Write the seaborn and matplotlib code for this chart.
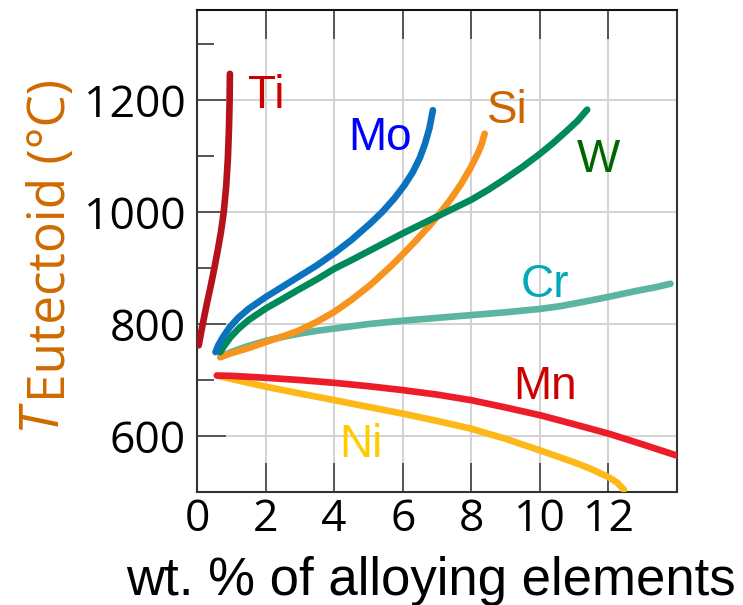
import matplotlib
matplotlib.use("Agg")
import matplotlib.pyplot as plt
import seaborn as sns
import pandas as pd

# eutectoid temperature vs. wt.% of alloying element
ti_x = [0.05, 0.12, 0.2, 0.3, 0.4, 0.5, 0.6, 0.7, 0.78, 0.85, 0.9, 0.93, 0.95, 0.96]
ti_y = [762, 785, 810, 840, 868, 898, 930, 965, 1000, 1045, 1095, 1145, 1195, 1247]

mo_x = [0.54, 0.62, 0.75, 0.95, 1.2, 1.5, 2.0, 2.5, 2.92, 3.5, 4.01, 4.5, 5.06, 5.4,
        5.75, 6.05, 6.3, 6.5, 6.65, 6.78, 6.88]
mo_y = [750, 762, 776, 794, 811, 827, 848, 867, 883, 905, 927, 950, 980, 1000,
        1024, 1048, 1072, 1097, 1122, 1150, 1182]

w_x = [0.68, 0.78, 0.97, 1.2, 1.5, 2.01, 2.5, 2.92, 3.5, 4.01, 4.5, 5.0, 5.5, 6.0,
       6.5, 7.0, 7.5, 8.0, 8.5, 9.0, 9.5, 10.0, 10.4, 10.8, 11.1, 11.38]
w_y = [750, 760, 776, 791, 807, 828, 845, 860, 880, 899, 914, 930, 946, 962,
       977, 992, 1007, 1022, 1040, 1060, 1081, 1104, 1124, 1146, 1163, 1183]

si_x = [0.68, 1.0, 1.5, 2.01, 2.5, 2.92, 3.5, 4.01, 4.5, 5.06, 5.4, 5.7, 5.99, 6.4,
        6.8, 7.1, 7.4, 7.7, 7.97, 8.2, 8.3, 8.39]
si_y = [741, 748, 757, 768, 778, 787, 804, 822, 843, 870, 889, 906, 924, 950,
        977, 999, 1023, 1050, 1078, 1106, 1121, 1140]

cr_x = [0.68, 1.0, 1.4, 2.01, 2.5, 3.0, 3.5, 4.01, 5.0, 6.0, 7.0, 8.0, 9.0, 10.0,
        10.6, 11.3, 12.04, 12.8, 13.4, 13.81]
cr_y = [741, 750, 759, 770, 777, 783, 788, 792, 800, 806, 811, 816, 821, 827,
        832, 840, 849, 859, 866, 872]

mn_x = [0.58, 1.0, 2.01, 3.0, 4.01, 5.0, 6.0, 7.0, 8.0, 9.0, 10.02, 11.0, 12.02, 13.0, 14.0]
mn_y = [708, 707.5, 704, 700, 695, 689, 682, 674, 664, 651, 637, 621, 604, 585, 565]

ni_x = [0.58, 1.0, 2.01, 3.0, 4.01, 5.0, 6.0, 7.0, 8.0, 9.0, 10.02, 11.0, 11.5, 12.02, 12.25, 12.45]
ni_y = [708, 702, 688, 676, 664, 652, 640, 627, 613, 595, 574, 553, 541, 526, 517, 504]

elements = ["Ni", "Mn", "Cr", "Si", "W", "Mo", "Ti"]
series = {"Ti": (ti_x, ti_y), "Mo": (mo_x, mo_y), "W": (w_x, w_y), "Si": (si_x, si_y),
          "Cr": (cr_x, cr_y), "Mn": (mn_x, mn_y), "Ni": (ni_x, ni_y)}

line_colors = {"Ti": "#b5121b", "Mo": "#0b72c0", "Si": "#f7941e", "W": "#008a5c",
               "Cr": "#5cb5a0", "Mn": "#ed1c29", "Ni": "#fdb917"}
label_colors = {"Ti": "#cc0000", "Mo": "#0000ff", "Si": "#cc6600", "W": "#006600",
                "Cr": "#00a8b8", "Mn": "#cc0000", "Ni": "#ffcc00"}
# label anchor (x, baseline y) in data units
label_pos = {"Ti": (2.01, 1186), "Mo": (5.34, 1111), "Si": (9.05, 1159), "W": (11.71, 1071),
             "Cr": (10.16, 848), "Mn": (10.16, 667), "Ni": (4.79, 562)}

rows = []
for el in elements:
    xs, ys = series[el]
    for a, b in zip(xs, ys):
        rows.append({"element": el, "wt": a, "T": b})
df = pd.DataFrame(rows)

sns.set_style("white")
plt.rcParams["font.family"] = ["Liberation Sans", "DejaVu Sans"]
plt.rcParams["text.color"] = "black"

fig = plt.figure(figsize=(7.43, 6.05), dpi=100)
ax = fig.add_axes([197 / 743, 113 / 605, 480 / 743, 482 / 605])

sns.lineplot(data=df, x="wt", y="T", hue="element", hue_order=elements,
             palette=line_colors, sort=False, estimator=None, units="element",
             linewidth=4.8, legend=False, ax=ax)
for ln in ax.lines:
    ln.set_solid_capstyle("round")
    ln.set_solid_joinstyle("round")
    ln.set_zorder(3)

for el in elements:
    lx, ly = label_pos[el]
    ax.text(lx, ly, el, color=label_colors[el], fontsize=33, ha="center",
            va="baseline", family=["Liberation Sans", "DejaVu Sans"], zorder=4)

ax.set_xlim(0, 14)
ax.set_ylim(500, 1361)
ax.set_xticks([0, 2, 4, 6, 8, 10, 12])
ax.set_yticks([600, 800, 1000, 1200])
ax.set_yticks([700, 900, 1100, 1300], minor=True)
ax.grid(True, which="major", color="#d4d4d4", linewidth=1.5, zorder=0)
ax.set_axisbelow(True)

ax.tick_params(axis="x", which="major", direction="in", top=True, bottom=True,
               length=21, width=1.4, color="#555555", pad=4, labelcolor="black")
ax.tick_params(axis="y", which="major", direction="in", left=True, right=False,
               length=21, width=1.4, color="#555555", pad=8, labelcolor="black")
ax.tick_params(axis="y", which="minor", direction="in", left=True, right=False,
               length=12, width=1.4, color="#555555")
for lab in ax.get_xticklabels():
    lab.set_family(["Liberation Sans Narrow", "Open Sans", "DejaVu Sans"])
    lab.set_fontsize(32)
for lab in ax.get_yticklabels():
    lab.set_family(["Open Sans", "DejaVu Sans"])
    lab.set_fontsize(32)

for side in ["left", "right", "top", "bottom"]:
    ax.spines[side].set_visible(True)
    ax.spines[side].set_linewidth(1.5)
    ax.spines[side].set_color("#333333")
ax.spines["top"].set_color("#111111")

ax.set_xlabel("")
ax.set_ylabel("")

fig.text(431 / 743, 1 - 595 / 605, "wt. % of alloying elements", fontsize=38,
         color="black", ha="center", va="baseline",
         family=["Liberation Sans", "DejaVu Sans"])

fig.text(65 / 743, 1 - 240 / 605, "Eutectoid (°C)", fontsize=37, color="#d06a00",
         rotation=90, rotation_mode="anchor", ha="center", va="baseline",
         family=["Open Sans", "DejaVu Sans"])
fig.text(54 / 743, 1 - 417 / 605, "T", fontsize=39, color="#d06a00", style="italic",
         rotation=90, rotation_mode="anchor", ha="center", va="baseline",
         family=["Open Sans", "DejaVu Sans"])

fig.savefig("out.png", dpi=100)
